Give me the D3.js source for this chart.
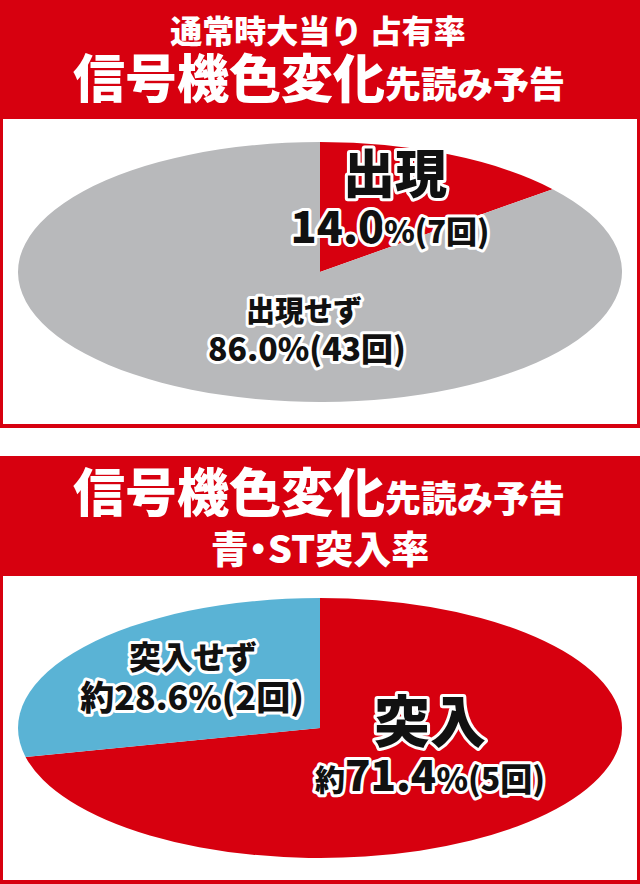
<!DOCTYPE html>
<html>
<head>
<meta charset="utf-8">
<script src="https://cdn.jsdelivr.net/npm/d3@7"></script>
<style>
  body { margin: 0; background: #fff; }
  svg { display: block; font-family: "Noto Sans CJK JP", "Noto Sans", sans-serif; font-weight: 900; }
</style>
</head>
<body>
<div id="result"></div>
<script>
// 通常時大当り占有率
const pie1Labels = ["出現", "出現せず"];
const pie1Counts = [7, 43];
const pie1Pct = ["14.0", "86.0"];
const pie1Colors = ["#d7000f", "#b8b9bb"];

// 青・ST突入率
const pie2Labels = ["突入", "突入せず"];
const pie2Counts = [5, 2];
const pie2Pct = ["71.4", "28.6"];
const pie2Colors = ["#d7000f", "#5ab3d5"];

const RED = "#d7000f";
const W = 640, H = 884;

let svg = d3.select("#result").append("svg").attr("width", W).attr("height", H);

function panel(y0, headH, y1) {
    svg.append("rect").attr("x", 0).attr("y", y0).attr("width", W).attr("height", y1 - y0).attr("fill", RED);
    svg.append("rect").attr("x", 3).attr("y", y0 + headH).attr("width", W - 6).attr("height", y1 - y0 - headH - 4).attr("fill", "#fff");
}

function drawPie(values, colors, cx, cy, rx, ry) {
    const pie = d3.pie().sort(null)(values);
    const arc = d3.arc().innerRadius(0).outerRadius(ry);
    svg.append("g")
        .attr("transform", `translate(${cx},${cy}) scale(${rx / ry},1)`)
        .selectAll("path").data(pie).join("path")
        .attr("d", arc)
        .attr("fill", (d, i) => colors[i]);
}

// 白フチ付きの黒文字
function label(x, y, parts) {
    const t = svg.append("text").attr("x", x).attr("y", y)
        .attr("text-anchor", "middle")
        .attr("fill", "#111")
        .attr("stroke", "#fff").attr("stroke-width", 6)
        .attr("stroke-linejoin", "round").attr("paint-order", "stroke");
    parts.forEach(p => t.append("tspan").attr("font-size", p[1]).text(p[0]));
}

function header(x, y, parts) {
    const t = svg.append("text").attr("x", x).attr("y", y).attr("text-anchor", "middle").attr("fill", "#fff");
    parts.forEach(p => t.append("tspan").attr("font-size", p[1])
        .style("font-feature-settings", p[2] ? '"palt"' : null).text(p[0]));
}

// ---- panel 1
panel(0, 119, 428);
header(318, 43, [["通常時大当り 占有率", 32]]);
header(319, 98, [["信号機色変化", 52], ["先読み予告", 36]]);
drawPie(pie1Counts, pie1Colors, 320, 272, 302, 130);

label(395, 193, [[pie1Labels[0], 52]]);
label(390, 243, [[pie1Pct[0], 43], ["%(" + pie1Counts[0] + "回)", 31]]);
label(304, 322, [[pie1Labels[1], 29]]);
label(307, 361, [[pie1Pct[1] + "%(" + pie1Counts[1] + "回)", 32]]);

// ---- panel 2
panel(456, 120, 884);
header(319, 512, [["信号機色変化", 52], ["先読み予告", 36]]);
header(320, 563, [["青・ST突入率", 38, true]]);
drawPie(pie2Counts, pie2Colors, 320, 728, 302, 130);

label(430, 742, [[pie2Labels[0], 56]]);
label(430, 791, [["約", 30], [pie2Pct[0], 42], ["%(" + pie2Counts[0] + "回)", 32]]);
label(193, 669, [[pie2Labels[1], 32]]);
label(192, 710, [["約" + pie2Pct[1] + "%(" + pie2Counts[1] + "回)", 34]]);
</script>
</body>
</html>
